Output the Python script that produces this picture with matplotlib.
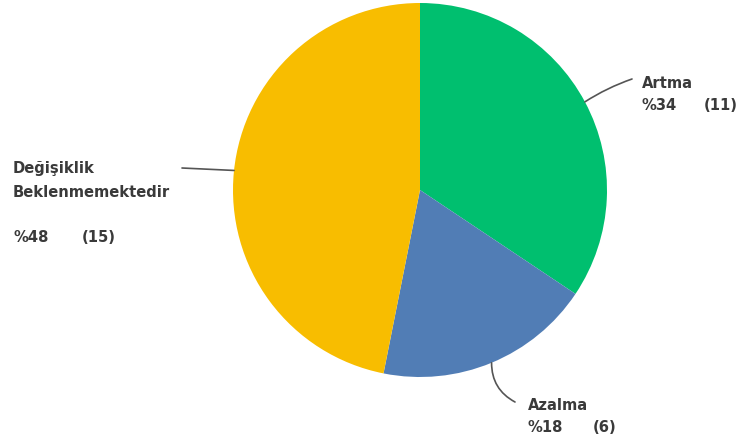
import matplotlib.pyplot as plt
import numpy as np

categories = ['Artma', 'Azalma', 'Değişiklik\nBeklenmemektedir']
counts = [11, 6, 15]
percent_labels = ['%34', '%18', '%48']
colors = ['#00BF6F', '#517DB5', '#F8BD00']

W, H = 741, 447
fig = plt.figure(figsize=(W / 100, H / 100), dpi=100)

# pie centre and radius in pixels
cx, cy, r = 420, 190, 187
ax = fig.add_axes([(cx - r) / W, (H - cy - r) / H, 2 * r / W, 2 * r / H])
wedges, _ = ax.pie(counts, colors=colors, startangle=90, counterclock=False,
                   wedgeprops=dict(linewidth=0))
ax.set_xlim(-1, 1)
ax.set_ylim(-1, 1)
ax.axis('off')

def px(x, y):
    return x / W, 1 - y / H

txt = dict(fontsize=10.6, fontweight='bold', color='#3a3a3a', family='DejaVu Sans')

# label layout: (name x, name baseline y, pct baseline y, count x, anchor angle, line end, rad)
layout = [
    (642, 88, 110, 704, None, (632, 79), 0.06),
    (528, 410, 432, 593, None, (515, 402), -0.3),
    (13, 173, 242, 82, 174, (182, 168), 0.0),
]

for w, name, n, pct, (lx, ny, py, cxp, ang, end, rad) in zip(
        wedges, categories, counts, percent_labels, layout):
    if ang is None:
        ang = (w.theta1 + w.theta2) / 2
    a = np.deg2rad(ang)
    ax.annotate('', xy=(np.cos(a), np.sin(a)), xycoords='data',
                xytext=px(*end), textcoords='figure fraction',
                arrowprops=dict(arrowstyle='-', color='#555555', lw=1.2,
                                shrinkA=0, shrinkB=0,
                                connectionstyle=f'arc3,rad={rad}'))
    lines = name.split('\n')
    for i, line in enumerate(lines):
        fig.text(*px(lx, ny + i * 24), line, va='baseline', ha='left', **txt)
    fig.text(*px(lx, py), pct, va='baseline', ha='left', **txt)
    fig.text(*px(cxp, py), f'({n})', va='baseline', ha='left', **txt)

fig.savefig('out.png', dpi=100)
